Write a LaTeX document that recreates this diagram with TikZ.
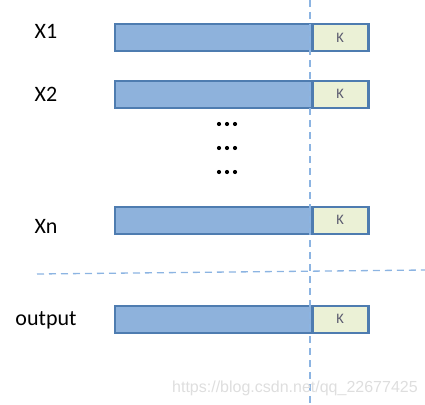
\documentclass[tikz,border=0pt]{standalone}
\usepackage{fontspec}
\setmainfont{Carlito}
\newfontfamily\wmfont{Liberation Sans}
\definecolor{barblue}{RGB}{142,178,220}
\definecolor{barline}{RGB}{78,124,176}
\definecolor{kgreen}{RGB}{235,241,214}
\definecolor{dashblue}{RGB}{140,180,226}
\definecolor{ktext}{RGB}{90,90,110}
\tikzset{
  bar/.style={draw=barline, line width=2.5pt, fill=barblue, minimum width=197.5pt, minimum height=27pt, inner sep=0pt, anchor=north west},
  kbox/.style={draw=barline, line width=2.5pt, fill=kgreen, minimum width=56pt, minimum height=27pt, inner sep=0pt, anchor=north west, font=\fontsize{14.5}{14.5}\selectfont, text=ktext},
  lbl/.style={anchor=base, inner sep=0pt, font=\fontsize{22}{22}\selectfont},
  dot/.style={circle, fill=black, minimum size=4.2pt, inner sep=0pt},
  guide/.style={draw=dashblue, line width=1.3pt, dash pattern=on 7pt off 5pt}
}
\begin{document}
\begin{tikzpicture}[x=1pt,y=-1pt]
\useasboundingbox (0,0) rectangle (425,404);
% rows
\node[bar] (b1) at (113.5,23) {};
\node[kbox] (k1) at (311,23) {K};
\node[bar] (b2) at (113.5,79.5) {};
\node[kbox] (k2) at (311,79.5) {K};
\node[bar] (bn) at (113.5,205.5) {};
\node[kbox] (kn) at (311,205.5) {K};
\node[bar] (bo) at (113.5,304.5) {};
\node[kbox] (ko) at (311,304.5) {K};
% labels
\node[lbl] (l1) at (46,38) {X1};
\node[lbl] (l2) at (46,101) {X2};
\node[lbl] (ln) at (46,233) {Xn};
\node[lbl] (lo) at (46,325) {output};
% dots
\foreach \r/\yy in {1/124,2/148,3/172}{
  \node[dot] (d\r a) at (219,\yy) {};
  \node[dot] (d\r b) at (227,\yy) {};
  \node[dot] (d\r c) at (235,\yy) {};
}
% guides
\coordinate (vt) at (310,0);
\coordinate (vb) at (310,404);
\coordinate (hl) at (37,274);
\coordinate (hr) at (425,270);
\draw[guide] (vt) -- (vb);
\draw[guide] (hl) -- (hr);
% watermark
\node[anchor=base west, inner sep=0pt, text=black!13, font=\wmfont\fontsize{16}{16}\selectfont] (wm) at (172,392) {https://blog.csdn.net/qq\_22677425};
\end{tikzpicture}
\end{document}
